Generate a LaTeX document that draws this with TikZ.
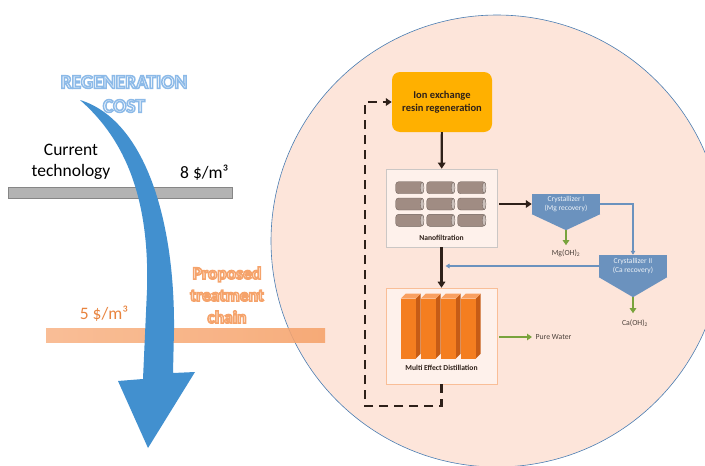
\documentclass[tikz,border=0pt]{standalone}
\usepackage{fontspec}
\setmainfont{Carlito}
\usetikzlibrary{arrows.meta,positioning,calc}
\definecolor{rcInk}{HTML}{2E2019}
\definecolor{rcDisk}{HTML}{FDE5DA}
\definecolor{rcRim}{HTML}{4A7DB2}
\definecolor{rcArrow}{HTML}{4290CF}
\definecolor{rcSky}{HTML}{8CB9E8}
\definecolor{rcPeach}{HTML}{F6A26A}
\definecolor{rcCost}{HTML}{E8843F}
\definecolor{rcGrey}{HTML}{B3B3B3}
\definecolor{rcGold}{HTML}{FFB000}
\definecolor{rcSteel}{HTML}{6B92BE}
\definecolor{rcLeaf}{HTML}{79A33C}
\definecolor{rcMem}{HTML}{A08C83}
\definecolor{rcSlab}{HTML}{F47E20}
\definecolor{rcSlabSide}{HTML}{C65C16}
\definecolor{rcSlabTop}{HTML}{F9A060}
% hollow lettering: fill in the current colour, stroke in #1 (rgb triple)
\newcommand\hollow[2]{\special{pdf:literal direct 2 Tr 1.5 w #1 RG}#2\special{pdf:literal direct 0 Tr}}
\tikzset{
  procbox/.style  ={fill=rcGold,rounded corners=8pt,minimum width=100pt,minimum height=60pt,
                    align=center,font=\fontsize{10.5}{13}\selectfont\bfseries,text=rcInk},
  unitbox/.style  ={line width=0.6pt,fill=white!45!rcDisk,minimum width=111pt},
  crystbox/.style ={fill=rcSteel,minimum width=68pt,inner sep=1pt,align=center,
                    font=\fontsize{7.5}{9.5}\selectfont,text=white!88!rcSteel},
  memcan/.style   ={draw=rcMem!70!black,line width=0.4pt,fill=rcMem,rounded corners=3pt},
  memcap/.style   ={draw=rcMem!70!black,line width=0.3pt,fill=rcMem!55!white},
  flow/.style     ={-{Triangle[length=6pt,width=7.5pt]},rcInk,line width=2.2pt},
  loopback/.style ={flow,dash pattern=on 9pt off 6pt},
  recov/.style    ={-{Triangle[length=5pt,width=6.5pt]},rcLeaf,line width=1.8pt},
  brine/.style    ={-{Triangle[length=4pt,width=4.5pt]},rcSteel,line width=1.3pt},
  lbl/.style      ={font=\fontsize{17.5}{21}\selectfont,text=black},
  unitlbl/.style  ={font=\fontsize{7.6}{9}\selectfont\bfseries,text=rcInk},
  slbl/.style     ={font=\fontsize{7.8}{9}\selectfont,text=rcInk!85},
  tlbl/.style     ={font=\fontsize{19.5}{24}\selectfont\bfseries,align=center,inner sep=0pt},
}

\begin{document}
\begin{tikzpicture}[x=1pt,y=-1pt]
\useasboundingbox (0,0) rectangle (705,466);
\clip (0,0) rectangle (705,466);

% treatment chain disk
\draw[rcRim,line width=0.6pt,fill=rcDisk] (497,241) circle[radius=226pt];

% cost levels
\draw[rcGrey!75!black,line width=0.4pt,fill=rcGrey] (8,187) rectangle (232,198);
\shade[left color=rcPeach!80!white,right color=rcPeach,opacity=0.88] (46,328) rectangle (325,342);

% regeneration cost arrow
\fill[rcArrow] (80,100) .. controls (145,120) and (175,220) .. (174,330)
  -- (173,373) -- (195,372) -- (148,448) -- (118,381) -- (143,379)
  -- (147,290) .. controls (150,190) and (120,135) .. (80,100) -- cycle;

\node[tlbl,text=white!92!rcSky] (regen) at (124,94)
  {\hollow{0.55 0.73 0.91}{REGENERATION}\\\hollow{0.55 0.73 0.91}{COST}};
\node[lbl,align=center] (cur) at (71,162) {Current\\technology};
\node[lbl,anchor=east] (c8) at (232,173) {8 \$/m³};
\node[lbl,text=rcCost] (c5) at (104,314) {5 \$/m³};
\node[tlbl,text=white!88!rcPeach,font=\fontsize{17.5}{22}\selectfont\bfseries] (prop) at (227,295)
  {\hollow{0.96 0.64 0.42}{Proposed}\\\hollow{0.96 0.64 0.42}{treatment}\\\hollow{0.96 0.64 0.42}{chain}};

% process units
\node[procbox] (iex) at (442,102) {Ion exchange\\resin regeneration};
\node[unitbox,draw=rcInk!25,minimum height=78pt] (nf) at (441.5,208) {};
\node[unitbox,draw=rcPeach!70,minimum height=96pt] (med) at (441.5,336) {};

% membrane modules
\foreach \r in {0,1,2}
  \foreach \c in {0,1,2} {
    \draw[memcan] ($(nf.north west)+(10+31*\c,13+16.3*\r)$) rectangle ++(28,12);
    \draw[memcap] ($(nf.north west)+(36.5+31*\c,19+16.3*\r)$) ellipse (1.8pt and 5.6pt);
  }
\node[unitlbl] at ($(nf.south)+(0,-9)$) {Nanofiltration};

% distillation effects
\foreach \i in {0,...,3} {
  \coordinate (s) at ($(med.north west)+(15+20*\i,11)$);
  \fill[rcSlabSide] ($(s)+(15,0)$) -- ++(5,-5) -- ++(0,60) -- ++(-5,5) -- cycle;
  \fill[rcSlabTop] (s) -- ++(5,-5) -- ++(15,0) -- ++(-5,5) -- cycle;
  \fill[rcSlab] (s) rectangle ++(15,60);
}
\node[unitlbl] at ($(med.south)+(0,-16)$) {Multi Effect Distillation};

% crystallizers
\node[crystbox,minimum height=20pt] (cr1) at (566,204) {Crystallizer I\\(Mg recovery)};
\coordinate (cr1tip) at ($(cr1.south)+(0,16)$);
\fill[rcSteel] (cr1.south west) -- (cr1.south east) -- (cr1tip) -- cycle;
\node[crystbox,minimum height=22pt] (cr2) at (633,266) {Crystallizer II\\(Ca recovery)};
\coordinate (cr2tip) at ($(cr2.south)+(0,20)$);
\fill[rcSteel] (cr2.south west) -- (cr2.south east) -- (cr2tip) -- cycle;

\node[slbl] (mg) at (566,253) {Mg(OH)\textsubscript{2}};
\node[slbl] (ca) at (635,323) {Ca(OH)\textsubscript{2}};
\node[slbl,anchor=west] (pw) at (532,337) {Pure Water};

% connections
\draw[flow] (iex) -- (nf);
\draw[flow,shorten <=2pt] (nf.east |- cr1) -- (cr1.west);
\draw[flow] (nf) -- (med);
\draw[recov] (cr1tip) -- ++(0,15);
\draw[recov] (cr2tip) -- ++(0,16);
\draw[recov,shorten <=2pt] (med.east |- pw) -- (pw.west);
\draw[brine] (cr1.east) -| (cr2.north);
\draw[brine] (cr2.west) -- ($(nf.south |- cr2.west)+(4,0)$);

% regenerant recycle
\coordinate (lp) at (365,406);
\draw[loopback] (med.south) |- (lp) |- (iex.west);
\end{tikzpicture}
\end{document}
